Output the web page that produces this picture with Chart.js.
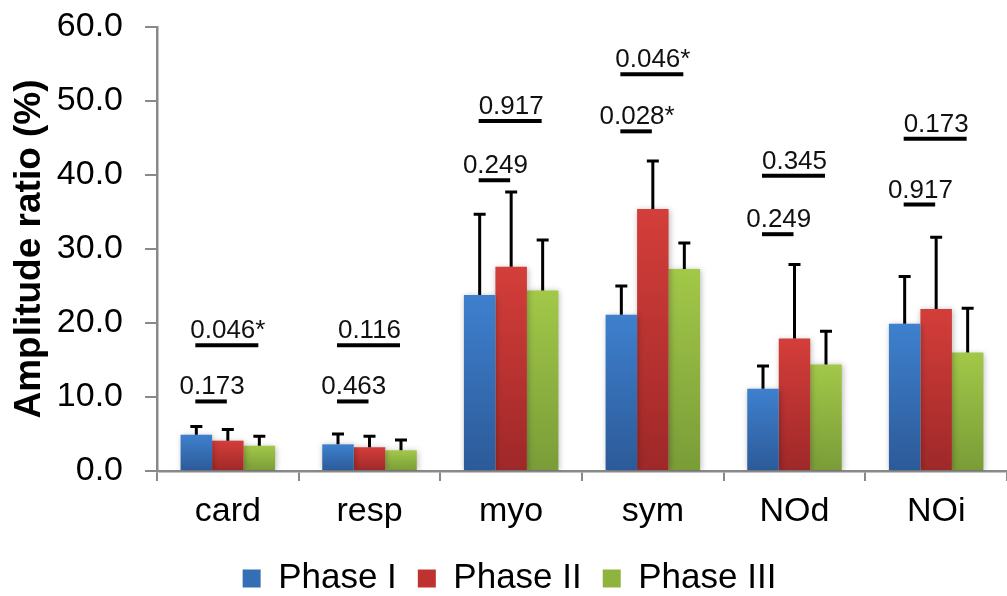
<!DOCTYPE html>
<html>
<head>
<meta charset="utf-8">
<script src="https://cdn.jsdelivr.net/npm/chart.js@4.4.1/dist/chart.umd.min.js"></script>
<style>
  html, body { margin: 0; padding: 0; background: #fff; overflow: hidden; }
  #wrap { position: relative; width: 1007px; height: 596px; }
</style>
</head>
<body>
<div id="wrap"><canvas id="amp-chart"></canvas></div>
<script>
const categories = ["card", "resp", "myo", "sym", "NOd", "NOi"];
const seriesNames = ["Phase I", "Phase II", "Phase III"];

const phase1 = [4.9, 3.6, 23.8, 21.1, 11.1, 19.9];
const phase2 = [4.1, 3.2, 27.6, 35.4, 17.9, 21.9];
const phase3 = [3.4, 2.8, 24.4, 27.3, 14.4, 16.0];

// upper error bar lengths (SD)
const err1 = [1.1, 1.4, 10.9, 3.9, 3.1, 6.4];
const err2 = [1.5, 1.5, 10.1, 6.5, 10.0, 9.7];
const err3 = [1.3, 1.4, 6.8, 3.5, 4.5, 6.0];

// p-values: Phase I vs II (low line) and Phase I vs III (high line)
const pLowLabels = ["0.173", "0.463", "0.249", "0.028*", "0.249", "0.917"];
const pLowY = [9.4, 9.4, 39.3, 45.9, 32.0, 36.0];
const pHighLabels = ["0.046*", "0.116", "0.917", "0.046*", "0.345", "0.173"];
const pHighY = [17.0, 17.0, 47.3, 53.6, 39.9, 44.9];

const yTicks = [0, 10, 20, 30, 40, 50, 60];

const values = [phase1, phase2, phase3];
const errors = [err1, err2, err3];

// top / bottom colours of the Excel-like gradient
const topColors = ["rgb(62,128,206)", "rgb(212,62,58)", "rgb(162,200,72)"];
const botColors = ["rgb(44,90,152)", "rgb(158,40,40)", "rgb(122,156,56)"];
const legendColors = ["rgb(52,110,180)", "rgb(190,50,48)", "rgb(142,180,62)"];

const FONT = "Arial, 'Liberation Sans', sans-serif";

function barGradient(i) {
  return function (context) {
    const chart = context.chart;
    const y = chart.scales.y;
    if (!chart.chartArea || !y || context.parsed === undefined) return legendColors[i];
    const top = y.getPixelForValue(context.parsed.y);
    const bottom = y.getPixelForValue(0);
    if (!isFinite(top) || top === bottom) return legendColors[i];
    const g = chart.ctx.createLinearGradient(0, top, 0, bottom);
    g.addColorStop(0, topColors[i]);
    g.addColorStop(1, botColors[i]);
    return g;
  };
}

const extras = {
  id: "extras",
  beforeDatasetsDraw(chart) {
    const ctx = chart.ctx;
    ctx.save();
    ctx.shadowColor = "rgba(0,0,0,0.28)";
    ctx.shadowBlur = 6;
    ctx.shadowOffsetX = 1;
    ctx.shadowOffsetY = 1;
  },
  afterDatasetsDraw(chart) {
    const ctx = chart.ctx;
    ctx.restore();
    const y = chart.scales.y;

    // error bars (upper only)
    ctx.save();
    ctx.strokeStyle = "#000";
    ctx.lineWidth = 3;
    ctx.lineCap = "butt";
    values.forEach(function (vals, i) {
      const meta = chart.getDatasetMeta(i);
      meta.data.forEach(function (bar, j) {
        const yTop = y.getPixelForValue(vals[j] + errors[i][j]);
        ctx.beginPath();
        ctx.moveTo(bar.x, bar.y);
        ctx.lineTo(bar.x, yTop);
        ctx.moveTo(bar.x - 6, yTop);
        ctx.lineTo(bar.x + 6, yTop);
        ctx.stroke();
      });
    });

    // significance lines and p-values
    const m0 = chart.getDatasetMeta(0).data;
    const m1 = chart.getDatasetMeta(1).data;
    const m2 = chart.getDatasetMeta(2).data;
    ctx.lineWidth = 4;
    ctx.fillStyle = "#111";
    ctx.font = "26px " + FONT;
    ctx.textAlign = "center";
    ctx.textBaseline = "alphabetic";
    categories.forEach(function (c, j) {
      const pairs = [
        [m0[j].x, m1[j].x, pLowY[j], pLowLabels[j]],
        [m0[j].x, m2[j].x, pHighY[j], pHighLabels[j]]
      ];
      pairs.forEach(function (p) {
        const yy = y.getPixelForValue(p[2]);
        ctx.beginPath();
        ctx.moveTo(p[0] - 1, yy);
        ctx.lineTo(p[1] - 1, yy);
        ctx.stroke();
        ctx.fillText(p[3], (p[0] + p[1]) / 2, yy - 7);
      });
    });
    ctx.restore();
  }
};

const ctx = document.getElementById("amp-chart");

const myChart = new Chart(ctx, {
  type: "bar",
  data: {
    labels: categories,
    datasets: values.map(function (vals, i) {
      return {
        label: seriesNames[i],
        data: vals,
        backgroundColor: barGradient(i),
        borderWidth: 0,
        categoryPercentage: 0.667,
        barPercentage: 1.0,
      };
    }),
  },
  options: {
    responsive: true,
    maintainAspectRatio: false,
    animation: false,
    layout: {
      padding: { top: 27, right: -12, left: 0, bottom: -10 },
    },
    plugins: {
      tooltip: { enabled: false },
      legend: {
        position: "bottom",
        labels: {
          boxWidth: 18,
          boxHeight: 18,
          padding: 21,
          color: "#000",
          font: { size: 35, family: FONT },
          generateLabels: function (chart) {
            return seriesNames.map(function (name, i) {
              return {
                text: name,
                fillStyle: legendColors[i],
                strokeStyle: legendColors[i],
                lineWidth: 0,
                hidden: false,
                datasetIndex: i,
              };
            });
          },
        },
      },
    },
    scales: {
      x: {
        afterFit: function (scale) {
          scale.height = scale.height - 3;
        },
        grid: {
          offset: true,
          drawOnChartArea: false,
          drawTicks: true,
          tickLength: 10,
          color: "#898989",
          lineWidth: 2,
        },
        border: { color: "#898989", width: 2.5 },
        ticks: {
          color: "#000",
          padding: 14,
          font: { size: 34, family: FONT, lineHeight: 1.0 },
        },
      },
      y: {
        min: 0,
        max: 60,
        afterBuildTicks: function (scale) {
          scale.ticks = yTicks.map(function (v) { return { value: v }; });
        },
        afterFit: function (scale) {
          scale.width = 157;
          scale.paddingTop = 0;
          scale.paddingBottom = 0;
        },
        grid: {
          drawOnChartArea: false,
          drawTicks: true,
          tickLength: 12,
          color: "#898989",
          lineWidth: 2,
        },
        border: { color: "#898989", width: 2.5 },
        ticks: {
          color: "#000",
          padding: 22,
          font: { size: 34, family: FONT },
          callback: function (v) { return Number(v).toFixed(1); },
        },
        title: {
          display: true,
          text: "Amplitude ratio (%)",
          color: "#000",
          padding: { top: 8, bottom: 0 },
          font: { size: 37, weight: "bold", family: FONT },
        },
      },
    },
  },
  plugins: [extras],
});
</script>
</body>
</html>
